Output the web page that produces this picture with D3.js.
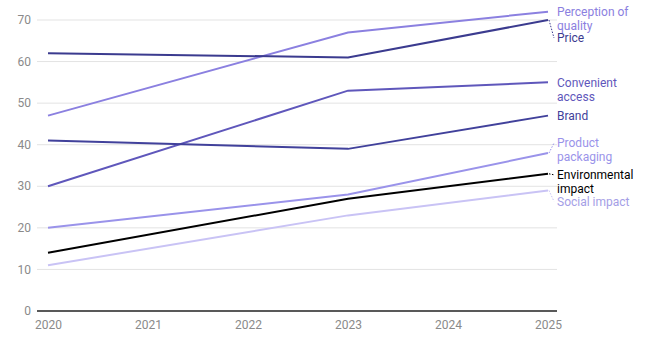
<!DOCTYPE html>
<html>
<head>
<meta charset="utf-8">
<script src="https://cdn.jsdelivr.net/npm/d3@7"></script>
<style>
  body { margin: 0; background: #fff; }
  text { font-family: Roboto, "Noto Sans", sans-serif; }
</style>
</head>
<body>
<div id="chart"></div>
<script>
// data
var years = [2020, 2023, 2025];
var seriesNames = ["Perception of quality", "Price", "Convenient access", "Brand",
                   "Product packaging", "Environmental impact", "Social impact"];
var perception = [47, 67, 72];
var price = [62, 61, 70];
var convenient = [30, 53, 55];
var brand = [41, 39, 47];
var packaging = [20, 28, 38];
var environmental = [14, 27, 33];
var social = [11, 23, 29];
var xTicks = [2020, 2021, 2022, 2023, 2024, 2025];
var yTicks = [0, 10, 20, 30, 40, 50, 60, 70];

var values = [perception, price, convenient, brand, packaging, environmental, social];
var colors = ["#8b80e0", "#3b3b8f", "#5f57bb", "#41419b", "#9a93ea", "#000000", "#c9c3f5"];
var textColors = ["#8b80e0", "#3b3b8f", "#5f57bb", "#41419b", "#9a93ea", "#000000", "#a49ee6"];
// label lines (wrapped) and vertical nudge in px
var labelLines = [["Perception of", "quality"], ["Price"], ["Convenient", "access"], ["Brand"],
                  ["Product", "packaging"], ["Environmental", "impact"], ["Social impact"]];
var labelShift = [0, 18, 0, 0, -10, 1, 11];

var W = 646, H = 340;
var margin = {top: 20, right: 89, bottom: 29, left: 37};

var svg = d3.select("#chart").append("svg")
  .attr("width", W).attr("height", H);

var x = d3.scaleLinear().domain([2020, 2025]).range([48, 548]);
var y = d3.scaleLinear().domain([0, 70]).range([H - margin.bottom, margin.top]);

// gridlines
svg.append("g").selectAll("line")
  .data(yTicks.filter(function(d) { return d > 0; }))
  .enter().append("line")
  .attr("x1", margin.left).attr("x2", W - margin.right)
  .attr("y1", function(d) { return y(d); }).attr("y2", function(d) { return y(d); })
  .attr("stroke", "#e3e3e3").attr("stroke-width", 1);

// y labels
svg.append("g").selectAll("text")
  .data(yTicks).enter().append("text")
  .attr("x", 31).attr("y", function(d) { return y(d); })
  .attr("dy", "0.35em")
  .attr("text-anchor", "end")
  .attr("font-size", 12).attr("fill", "#8a8a8a")
  .text(function(d) { return d; });

// x axis
var xAxis = svg.append("g")
  .attr("transform", "translate(0," + y(0) + ")")
  .call(d3.axisBottom(x).tickValues(xTicks).tickFormat(d3.format("d")).tickSize(0).tickPadding(9));
xAxis.select(".domain").remove();
xAxis.selectAll("text").attr("font-size", 12).attr("fill", "#8a8a8a")
  .style("font-family", "Roboto, sans-serif");
svg.append("line")
  .attr("x1", margin.left).attr("x2", W - margin.right)
  .attr("y1", y(0)).attr("y2", y(0))
  .attr("stroke", "#222").attr("stroke-width", 1.3);

// lines
var line = d3.line()
  .x(function(d, i) { return x(years[i]); })
  .y(function(d) { return y(d); });

svg.append("g").selectAll("path")
  .data(values).enter().append("path")
  .attr("d", line)
  .attr("fill", "none")
  .attr("stroke", function(d, i) { return colors[i]; })
  .attr("stroke-width", 2);

// labels, with dotted leaders where the label is pushed off its line end
var lx = 557;
values.forEach(function(v, i) {
  var endY = y(v[v.length - 1]);
  var ly = endY + labelShift[i];
  if (labelShift[i] !== 0) {
    svg.append("line")
      .attr("x1", x(2025) + 1).attr("y1", endY)
      .attr("x2", lx - 3).attr("y2", ly)
      .attr("stroke", colors[i]).attr("stroke-width", 1)
      .attr("stroke-dasharray", "1.5,1.5");
  }
  var t = svg.append("text")
    .attr("x", lx).attr("y", ly)
    .attr("font-size", 12).attr("fill", textColors[i]);
  labelLines[i].forEach(function(s, k) {
    t.append("tspan").attr("x", lx)
      .attr("dy", k === 0 ? "0.35em" : "1.17em")
      .text(s);
  });
});
</script>
</body>
</html>
